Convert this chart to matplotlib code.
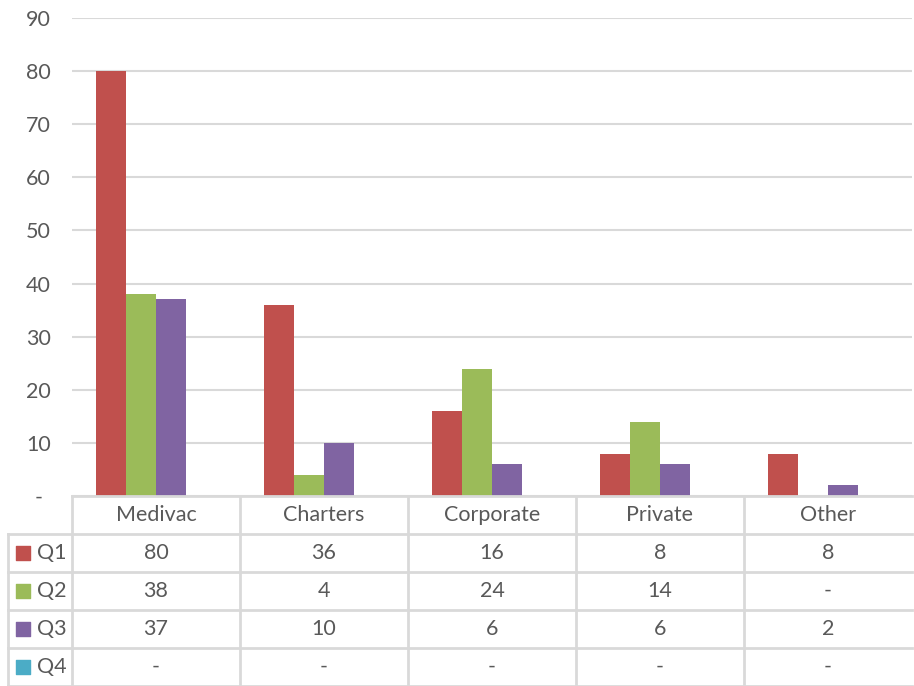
import matplotlib
matplotlib.use("Agg")
import matplotlib.pyplot as plt
import numpy as np

categories = ["Medivac", "Charters", "Corporate", "Private", "Other"]
series = ["Q1", "Q2", "Q3", "Q4"]
q1 = [80, 36, 16, 8, 8]
q2 = [38, 4, 24, 14, 0]
q3 = [37, 10, 6, 6, 2]
q4 = [0, 0, 0, 0, 0]
values = [q1, q2, q3, q4]
colors = ["#C0504D", "#9BBB59", "#8064A2", "#4BACC6"]

plt.rcParams['font.family'] = ['Lato', 'DejaVu Sans']
txt = "#595959"
grid = "#D9D9D9"
fs = 15.5

W, H = 914, 686
fig = plt.figure(figsize=(W / 100, H / 100), dpi=100)

# plot area
x0, x1, ybot, ytop = 72, 912, 496, 18
ax = fig.add_axes([x0 / W, (H - ybot) / H, (x1 - x0) / W, (ybot - ytop) / H])
x = np.arange(len(categories))
bw = 0.18
for i, (vals, c) in enumerate(zip(values, colors)):
    ax.bar(x + (i - 1.5) * bw, vals, bw, color=c, zorder=3)
ax.set_xlim(-0.5, len(categories) - 0.5)
ax.set_ylim(0, 90)
ax.set_yticks(range(0, 91, 10))
ax.set_yticklabels(["-"] + [str(v) for v in range(10, 91, 10)])
ax.tick_params(axis='y', length=0, labelsize=fs, labelcolor=txt, pad=24)
ax.set_xticks([])
for s in ax.spines.values():
    s.set_visible(False)
ax.yaxis.grid(True, color=grid, linewidth=1.5, zorder=0)
for lbl in ax.get_yticklabels():
    lbl.set_horizontalalignment('center')

# data table
tx0 = 8
ext = (x0 - tx0) / ((x1 - x0) / len(categories))
tab = fig.add_axes([tx0 / W, 0, (x1 - tx0) / W, (H - ybot) / H])
tab.set_xlim(-0.5 - ext, len(categories) - 0.5)
tab.set_ylim(5, 0)
tab.axis('off')
lk = dict(color=grid, linewidth=2, clip_on=False)
left = -0.5 - ext
tab.plot([-0.5, len(categories) - 0.5], [0, 0], **lk)
for r in range(1, 6):
    tab.plot([left, len(categories) - 0.5], [r, r], **lk)
tab.plot([left, left], [1, 5], **lk)
for k in range(len(categories)):
    tab.plot([k - 0.5, k - 0.5], [0, 5], **lk)
for k, cat in enumerate(categories):
    tab.text(k, 0.5, cat, ha='center', va='center', fontsize=fs, color=txt)
for r, (name, vals, c) in enumerate(zip(series, values, colors)):
    y = r + 1.5
    tab.scatter([left + 0.09], [y], marker='s', s=100, color=c, clip_on=False)
    tab.text(left + 0.17, y, name, ha='left', va='center', fontsize=fs, color=txt)
    for k, v in enumerate(vals):
        tab.text(k, y, str(v) if v else "-", ha='center', va='center',
                 fontsize=fs, color=txt)

fig.savefig("out.png", dpi=100)
